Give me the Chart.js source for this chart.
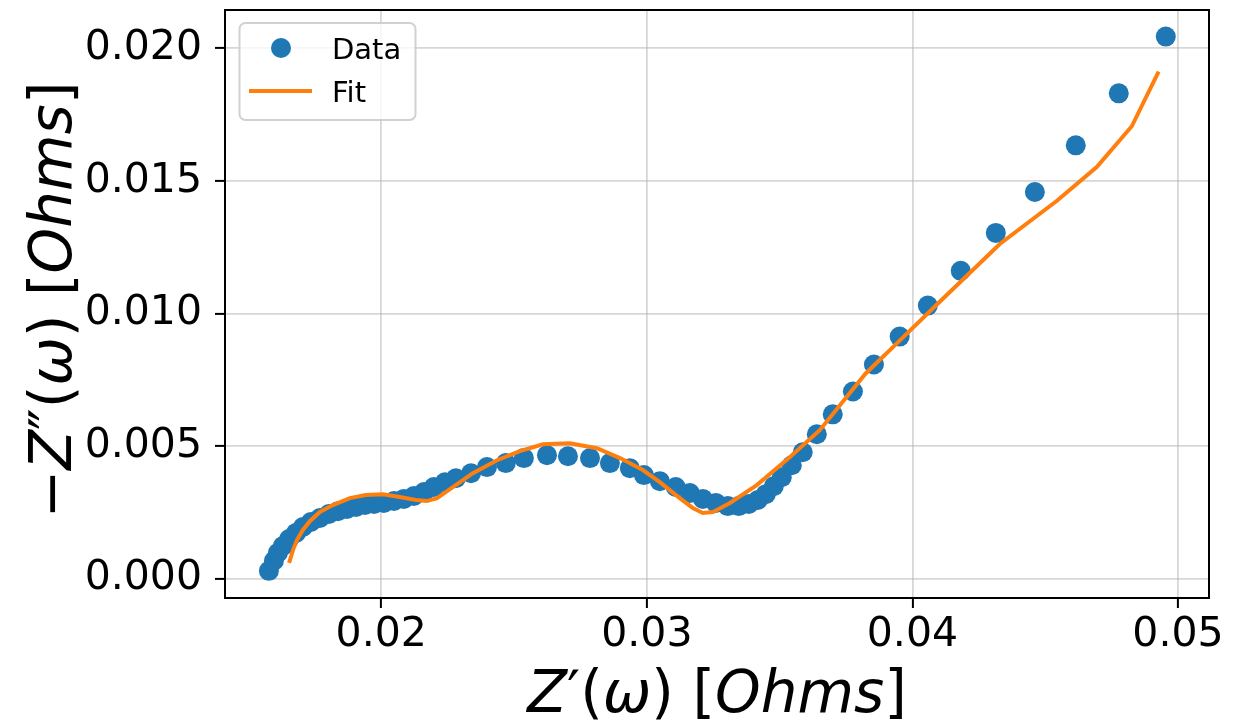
<!DOCTYPE html>
<html><head><meta charset="utf-8">
<script src="https://cdn.jsdelivr.net/npm/chart.js@4.4.0/dist/chart.umd.min.js"></script>
<style>html,body{margin:0;padding:0;background:#fff;} canvas{display:block;}</style>
</head><body>
<canvas id="c" width="1233" height="723"></canvas>
<script>
// Measured data: Z' (real part) and -Z'' (imaginary part), Ohms
const dataX = [0.01577,0.01596,0.01611,0.01630,0.01653,0.01679,0.01705,0.01735,0.01769,0.01803,
  0.01837,0.01871,0.01905,0.01939,0.01973,0.02010,0.02048,0.02085,0.02123,0.02161,
  0.02198,0.02240,0.02281,0.02338,0.02398,0.02469,0.02537,0.02624,0.02703,0.02786,
  0.02861,0.02936,0.02989,0.03049,0.03109,0.03162,0.03211,0.03260,0.03305,0.03346,
  0.03384,0.03418,0.03448,0.03478,0.03508,0.03546,0.03587,0.03640,0.03700,0.03776,
  0.03855,0.03952,0.04058,0.04182,0.04314,0.04461,0.04615,0.04777,0.04954];
const dataY = [0.00030,0.00068,0.00098,0.00124,0.00150,0.00173,0.00195,0.00214,0.00229,0.00244,
  0.00255,0.00263,0.00271,0.00278,0.00282,0.00286,0.00293,0.00301,0.00312,0.00327,
  0.00346,0.00364,0.00379,0.00398,0.00421,0.00436,0.00455,0.00466,0.00462,0.00455,
  0.00436,0.00417,0.00391,0.00368,0.00346,0.00323,0.00301,0.00286,0.00274,0.00274,
  0.00282,0.00297,0.00319,0.00349,0.00383,0.00428,0.00477,0.00545,0.00620,0.00706,
  0.00808,0.00913,0.01030,0.01161,0.01304,0.01458,0.01634,0.01830,0.02044];
// Model fit
const fitX = [0.01653,0.01668,0.01683,0.01705,0.01732,0.01769,0.01818,0.01882,0.01942,0.02006,
  0.02070,0.02131,0.02172,0.02210,0.02259,0.02345,0.02436,0.02522,0.02609,0.02710,
  0.02812,0.02899,0.02985,0.03049,0.03124,0.03173,0.03211,0.03249,0.03313,0.03414,
  0.03538,0.03651,0.03824,0.03952,0.04095,0.04329,0.04543,0.04694,0.04826,0.04927];
const fitY = [0.00060,0.00109,0.00147,0.00184,0.00218,0.00252,0.00278,0.00304,0.00316,0.00319,
  0.00308,0.00297,0.00293,0.00304,0.00338,0.00398,0.00447,0.00481,0.00507,0.00511,
  0.00492,0.00455,0.00410,0.00364,0.00304,0.00267,0.00248,0.00252,0.00286,0.00353,
  0.00458,0.00560,0.00774,0.00898,0.01037,0.01262,0.01424,0.01552,0.01706,0.01912];
const xTickValues = [0.02, 0.03, 0.04, 0.05];
const xTickLabels = ['0.02', '0.03', '0.04', '0.05'];
const yTickValues = [0, 0.005, 0.010, 0.015, 0.020];
const yTickLabels = ['0.000', '0.005', '0.010', '0.015', '0.020'];
const xRange = [0.014117, 0.051167];
const yRange = [-0.000725, 0.021443];
const seriesNames = ['Data', 'Fit'];
// axis titles as [text, italic] runs (math-style: letters italic, brackets upright)
const xTitleRuns = [['Z', true], ['\u2032', false], ['(', false], ['\u03C9', true], [')', false], [' ', false], ['[', false], ['Ohms', true], [']', false]];
const yTitleRuns = [['\u2212', false], ['Z', true], ['\u2033', false], ['(', false], ['\u03C9', true], [')', false], [' ', false], ['[', false], ['Ohms', true], [']', false]];

const BLUE = '#1f77b4', ORANGE = '#ff7f0e';
const FONT = 'DejaVu Sans';
const TITLE_SIZE = 58;

function drawRuns(ctx, runs, cx, baseY) {
  const fonts = runs.map(r => (r[1] ? 'italic ' : '') + TITLE_SIZE + 'px "' + FONT + '"');
  const widths = runs.map((r, i) => { ctx.font = fonts[i]; return ctx.measureText(r[0]).width; });
  const total = widths.reduce((a, b) => a + b, 0);
  let x = cx - total / 2;
  ctx.textBaseline = 'alphabetic'; ctx.textAlign = 'left'; ctx.fillStyle = '#000';
  runs.forEach((r, i) => { ctx.font = fonts[i]; ctx.fillText(r[0], x, baseY); x += widths[i]; });
}

const titlesPlugin = {
  id: 'axisTitles',
  afterDraw(chart) {
    const {ctx, chartArea: a} = chart;
    ctx.save();
    drawRuns(ctx, xTitleRuns, (a.left + a.right) / 2, 712);
    ctx.restore();
    ctx.save();
    ctx.translate(71, (a.top + a.bottom) / 2 - 4);
    ctx.rotate(-Math.PI / 2);
    drawRuns(ctx, yTitleRuns, 0, 0);
    ctx.restore();
  }
};
const framePlugin = {
  id: 'frame',
  afterDatasetsDraw(chart) {
    const {ctx, chartArea: a} = chart;
    ctx.save();
    ctx.strokeStyle = '#000'; ctx.lineWidth = 2;
    ctx.strokeRect(a.left, a.top, a.right - a.left, a.bottom - a.top);
    ctx.restore();
  }
};
const legendPlugin = {
  id: 'mplLegend',
  afterDraw(chart) {
    const ctx = chart.ctx;
    const ds = chart.data.datasets;
    ctx.save();
    const x = 239.5, y = 23, w = 176, h = 97, r = 6;
    ctx.beginPath();
    ctx.moveTo(x + r, y); ctx.lineTo(x + w - r, y); ctx.arcTo(x + w, y, x + w, y + r, r);
    ctx.lineTo(x + w, y + h - r); ctx.arcTo(x + w, y + h, x + w - r, y + h, r);
    ctx.lineTo(x + r, y + h); ctx.arcTo(x, y + h, x, y + h - r, r);
    ctx.lineTo(x, y + r); ctx.arcTo(x, y, x + r, y, r); ctx.closePath();
    ctx.fillStyle = 'rgba(255,255,255,0.8)'; ctx.fill();
    ctx.strokeStyle = 'rgba(204,204,204,0.9)'; ctx.lineWidth = 2; ctx.stroke();
    ctx.beginPath(); ctx.arc(281, 48, 10, 0, Math.PI * 2);
    ctx.fillStyle = ds[0].backgroundColor; ctx.fill();
    ctx.beginPath(); ctx.moveTo(249, 91); ctx.lineTo(312, 91);
    ctx.strokeStyle = ds[1].borderColor; ctx.lineWidth = 4; ctx.stroke();
    ctx.fillStyle = '#000'; ctx.font = '29px "' + FONT + '"'; ctx.textBaseline = 'alphabetic';
    ctx.fillText(ds[0].label, 332, 59);
    ctx.fillText(ds[1].label, 332, 102);
    ctx.restore();
  }
};

new Chart(document.getElementById('c'), {
  type: 'scatter',
  data: {
    datasets: [
      { label: seriesNames[0], data: dataX.map((v, i) => ({x: v, y: dataY[i]})),
        backgroundColor: BLUE, borderColor: BLUE, pointRadius: 10, pointBorderWidth: 0,
        pointHoverRadius: 10, showLine: false, order: 1 },
      { label: seriesNames[1], data: fitX.map((v, i) => ({x: v, y: fitY[i]})),
        backgroundColor: ORANGE, borderColor: ORANGE, borderWidth: 4, pointRadius: 0,
        pointHoverRadius: 0, showLine: true, tension: 0, order: 0 }
    ]
  },
  options: {
    responsive: false, animation: false, devicePixelRatio: 1,
    layout: { padding: { left: 0, top: 8, right: 24, bottom: 0 } },
    plugins: { legend: { display: false }, tooltip: { enabled: false } },
    scales: {
      x: {
        type: 'linear', min: xRange[0], max: xRange[1],
        afterBuildTicks: s => { s.ticks = xTickValues.map(v => ({value: v})); },
        afterFit: s => { s.height = 125; s.paddingLeft = 0; s.paddingRight = 0; },
        ticks: { autoSkip: false, maxRotation: 0, minRotation: 0, padding: 3, color: '#000',
          font: { family: FONT, size: 41 }, callback: (v, i) => xTickLabels[i] },
        grid: { color: 'rgba(176,176,176,0.5)', lineWidth: 1.8, tickColor: '#000', tickWidth: 2, tickLength: 10 },
        border: { display: false },
        title: { display: false }
      },
      y: {
        type: 'linear', min: yRange[0], max: yRange[1],
        afterBuildTicks: s => { s.ticks = yTickValues.map(v => ({value: v})); },
        afterFit: s => { s.width = 225; s.paddingTop = 0; s.paddingBottom = 0; },
        ticks: { autoSkip: false, padding: 13, color: '#000',
          font: { family: FONT, size: 41 }, callback: (v, i) => yTickLabels[i] },
        grid: { color: 'rgba(176,176,176,0.5)', lineWidth: 1.8, tickColor: '#000', tickWidth: 2, tickLength: 10 },
        border: { display: false },
        title: { display: false }
      }
    }
  },
  plugins: [framePlugin, legendPlugin, titlesPlugin]
});
</script>
</body></html>
